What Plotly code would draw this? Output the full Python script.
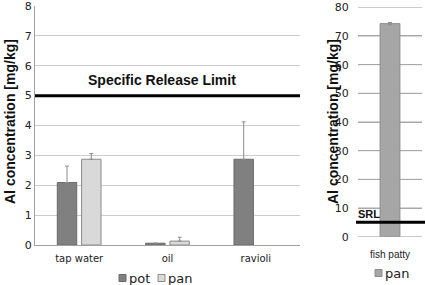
import plotly.graph_objects as go

categories = ["tap water", "oil", "ravioli"]
pot_values = [2.09, 0.06, 2.87]
pot_err = [0.55, 0.0, 1.25]
pan_values = [2.87, 0.13, None]
pan_err = [0.19, 0.13, 0.0]

fish_category = ["fish patty"]
fish_pan_values = [74.3]
fish_pan_err = [0.4]

SRL = 5
left_ticks = [0, 1, 2, 3, 4, 5, 6, 7, 8]
right_ticks = [0, 10, 20, 30, 40, 50, 60, 70, 80]

POT_COLOR = "#808080"
PAN_COLOR = "#d9d9d9"
FISH_COLOR = "#a6a6a6"
CLEAR = "rgba(0,0,0,0)"

W, H, T, B = 425, 285, 6, 40
PH = H - T - B


def py(pix):
    return (H - B - pix) / PH


tick_font = dict(family="DejaVu Sans", size=11, color="#222222")
bold_font = dict(family="Liberation Sans", size=14, color="#111111")
leg_font = dict(family="DejaVu Sans", size=13, color="#222222")

fig = go.Figure()
fig.add_trace(go.Bar(
    x=categories, y=pot_values, name="pot",
    marker=dict(color=POT_COLOR, line=dict(color="#6a6a6a", width=1)),
    error_y=dict(type="data", array=pot_err, arrayminus=[0, 0, 0], symmetric=False,
                 color="#8c8c8c", thickness=1, width=2),
    xaxis="x", yaxis="y",
))
fig.add_trace(go.Bar(
    x=categories, y=pan_values, name="pan",
    marker=dict(color=PAN_COLOR, line=dict(color="#8c8c8c", width=1)),
    error_y=dict(type="data", array=pan_err, arrayminus=[0, 0, 0], symmetric=False,
                 color="#8c8c8c", thickness=1, width=2),
    xaxis="x", yaxis="y",
))
fig.add_trace(go.Bar(
    x=fish_category, y=fish_pan_values, name="pan", width=0.31,
    marker=dict(color=FISH_COLOR, line=dict(color="#8c8c8c", width=1)),
    error_y=dict(type="data", array=fish_pan_err, color="#8c8c8c", thickness=1, width=2),
    xaxis="x2", yaxis="y2",
))

fig.update_layout(
    width=W, height=H,
    margin=dict(l=0, r=0, t=T, b=B),
    paper_bgcolor="white", plot_bgcolor=CLEAR,
    barmode="group", bargap=0.45, bargroupgap=0.2,
    showlegend=False,
    xaxis=dict(domain=[35/W, 300/W], anchor="y",
               tickfont=dict(family="DejaVu Sans", size=10, color="#222222"),
               showline=True, linecolor="#a0a0a0", linewidth=1,
               ticks="outside", ticklen=4, tickcolor=CLEAR,
               automargin=False, ticklabeloverflow="allow"),
    yaxis=dict(domain=[0, 1], anchor="x", range=[0, 8], tickvals=left_ticks,
               tickfont=tick_font, showgrid=True, gridcolor="#cccccc", gridwidth=1,
               showline=True, linecolor="#a0a0a0", linewidth=1, ticks="",
               zeroline=False, automargin=False, ticklabeloverflow="allow"),
    xaxis2=dict(domain=[358/W, 422/W], anchor="y2",
                tickfont=dict(family="Liberation Sans", size=10, color="#222222"),
                showline=False, ticks="outside", ticklen=8, tickcolor=CLEAR,
                range=[-0.5, 0.5], automargin=False, ticklabeloverflow="allow"),
    yaxis2=dict(domain=[py(236.7), py(7.3)], anchor="x2", range=[0, 80], tickvals=right_ticks,
                tickfont=tick_font, showgrid=True, gridcolor="#a8a8a8", gridwidth=1,
                showline=False, ticks="outside", ticklen=6, tickcolor=CLEAR,
                zeroline=False, automargin=False, ticklabeloverflow="allow"),
)

# right-panel gridlines, one per tick value
for v in right_ticks:
    fig.add_shape(type="line", xref="x2 domain", yref="y2", x0=0, x1=1, y0=v, y1=v,
                  layer="below", line=dict(color="#a8a8a8", width=1))

# Specific release limit lines
fig.add_shape(type="line", xref="x domain", yref="y", x0=0, x1=1, y0=SRL, y1=SRL,
              line=dict(color="black", width=3))
fig.add_shape(type="line", xref="paper", yref="y2", x0=356/W, x1=1, y0=SRL, y1=SRL,
              line=dict(color="black", width=3))

fig.add_annotation(text="<b>Specific Release Limit</b>", xref="x domain", yref="y",
                   x=(162 - 35) / 265, y=SRL + 0.2, xanchor="center", yanchor="bottom",
                   showarrow=False, font=dict(family="Liberation Sans", size=14, color="#111111"))
fig.add_annotation(text="<b>SRL</b>", xref="paper", yref="y2",
                   x=356/W, y=SRL + 0.3, xanchor="left", yanchor="bottom", showarrow=False,
                   font=dict(family="Liberation Sans", size=11, color="#111111"))

# Axis titles
fig.add_annotation(text="<b>Al concentration [mg/kg]</b>", xref="paper", yref="paper",
                   x=10/W, y=py(122), xanchor="center", yanchor="middle", textangle=-90,
                   showarrow=False, font=bold_font)
fig.add_annotation(text="<b>Al concentration [mg/kg]</b>", xref="paper", yref="paper",
                   x=333/W, y=py(122), xanchor="center", yanchor="middle", textangle=-90,
                   showarrow=False, font=bold_font)

# Legends (compact, drawn as swatches + text)
legend_items = [
    (119, 278, POT_COLOR, "#6a6a6a", "pot"),
    (158, 278, PAN_COLOR, "#8c8c8c", "pan"),
    (375, 273, FISH_COLOR, "#8c8c8c", "pan"),
]
for x0, yc, fill, edge, label in legend_items:
    fig.add_shape(type="rect", xref="paper", yref="paper",
                  x0=x0/W, x1=(x0 + 7)/W, y0=py(yc + 3.5), y1=py(yc - 3.5),
                  fillcolor=fill, line=dict(color=edge, width=1))
    fig.add_annotation(text=label, xref="paper", yref="paper",
                       x=(x0 + 8)/W, y=py(yc), xanchor="left", yanchor="middle",
                       showarrow=False, font=leg_font)

fig.write_html(
    "out.html",
    config={"displayModeBar": False},
    post_script="document.body.style.margin='0px';document.body.style.overflow='hidden';",
)
